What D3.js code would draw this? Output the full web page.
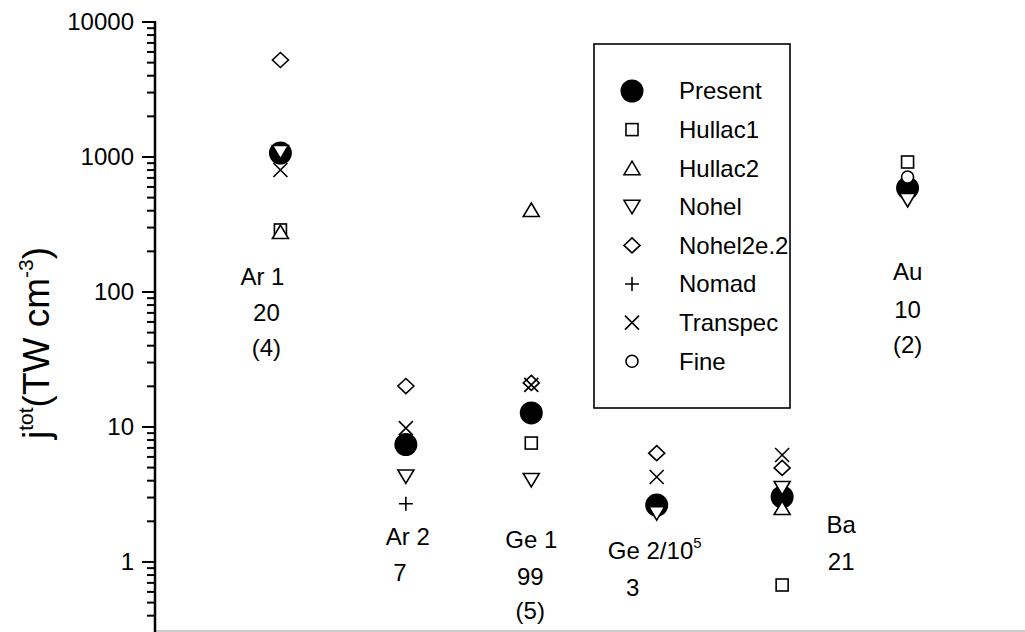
<!DOCTYPE html>
<html><head><meta charset="utf-8">
<script src="https://cdn.jsdelivr.net/npm/d3@7"></script>
<style>body{margin:0;background:#fff}svg{display:block}text{font-family:"Liberation Sans",Arial,sans-serif;fill:#000}</style>
</head><body><svg id="c" width="1025" height="632"></svg>
<script>
// ---- data ----
const categories = ["Ar 1", "Ar 2", "Ge 1", "Ge 2", "Ba", "Au"];
const catPos = [1, 2, 3, 4, 5, 6];
const present  = [1070, 7.4, 12.7, 2.64, 3.03, 589];
const hullac1  = [288, null, 7.6, null, 0.675, 918];
const hullac2  = [278, null, 405, null, 2.51, null];
const nohel    = [1090, 4.3, 4.05, 2.3, 3.53, 480];
const nohel2e2 = [5230, 20.1, 21.2, 6.4, 4.97, null];
const nomad    = [null, 2.7, null, null, null, null];
const transpec = [801, 9.8, 20.5, 4.26, 6.2, null];
const fine     = [null, null, null, null, null, 711];
const seriesNames = ["Present", "Hullac1", "Hullac2", "Nohel", "Nohel2e.2", "Nomad", "Transpec", "Fine"];
const labelLines = [["Ar 1", "20", "(4)"], ["Ar 2", "7"], ["Ge 1", "99", "(5)"], ["Ge 2/10|5", "3"], ["Ba", "21"], ["Au", "10", "(2)"]];
const yTicks = [1, 10, 100, 1000, 10000];
const yDomain = [0.308, 10000];

// ---- layout ----
const svg = d3.select("#c");
const x = d3.scaleLinear().domain([0, 7]).range([155, 1033]);
const y = d3.scaleLog().domain(yDomain).range([631, 22]);

const shapes = {
  Present: "filled", Hullac1: "square", Hullac2: "up", Nohel: "down",
  "Nohel2e.2": "diamond", Nomad: "plus", Transpec: "cross", Fine: "circle"
};
function drawMarker(g, kind, cx, cy) {
  const st = {stroke: "#000", "stroke-width": 1.6, fill: "#fff"};
  let el;
  if (kind === "filled") {
    g.append("circle").attr("cx", cx).attr("cy", cy).attr("r", 11.5).attr("fill", "#000");
    return;
  } else if (kind === "circle") {
    el = g.append("circle").attr("cx", cx).attr("cy", cy).attr("r", 6);
  } else if (kind === "square") {
    el = g.append("rect").attr("x", cx - 6).attr("y", cy - 6).attr("width", 12).attr("height", 12);
  } else if (kind === "up") {
    el = g.append("path").attr("d", `M${cx},${cy - 7}L${cx + 8},${cy + 6.5}L${cx - 8},${cy + 6.5}Z`);
  } else if (kind === "down") {
    el = g.append("path").attr("d", `M${cx},${cy + 7}L${cx + 8},${cy - 6.5}L${cx - 8},${cy - 6.5}Z`);
  } else if (kind === "diamond") {
    el = g.append("path").attr("d", `M${cx},${cy - 7.5}L${cx + 8},${cy}L${cx},${cy + 7.5}L${cx - 8},${cy}Z`);
  } else if (kind === "plus") {
    el = g.append("path").attr("d", `M${cx - 7},${cy}H${cx + 7}M${cx},${cy - 7}V${cy + 7}`);
  } else if (kind === "cross") {
    el = g.append("path").attr("d", `M${cx - 7},${cy - 7}L${cx + 7},${cy + 7}M${cx + 7},${cy - 7}L${cx - 7},${cy + 7}`);
  }
  for (const k in st) el.attr(k, st[k]);
}

// bottom axis line
svg.append("line").attr("x1", 155).attr("x2", 1025).attr("y1", 631).attr("y2", 631)
  .attr("stroke", "#999").attr("stroke-width", 1.2);

// y axis
const minor = [];
for (let e = -1; e <= 3; e++) for (let m = 2; m <= 9; m++) {
  const v = m * Math.pow(10, e);
  if (v >= yDomain[0] && v <= yDomain[1]) minor.push(v);
}
const ay = svg.append("g");
ay.append("line").attr("x1", 155).attr("x2", 155).attr("y1", y(yDomain[1]) - 1).attr("y2", 632)
  .attr("stroke", "#000").attr("stroke-width", 2.5);
ay.selectAll(".mn").data(minor).join("line")
  .attr("x1", 147).attr("x2", 155).attr("y1", d => y(d)).attr("y2", d => y(d))
  .attr("stroke", "#000").attr("stroke-width", 2);
ay.selectAll(".mj").data(yTicks).join("line")
  .attr("x1", 142).attr("x2", 155).attr("y1", d => y(d)).attr("y2", d => y(d))
  .attr("stroke", "#000").attr("stroke-width", 2);
ay.selectAll(".tl").data(yTicks).join("text")
  .attr("x", 134).attr("y", d => y(d)).attr("dy", "0.35em")
  .attr("text-anchor", "end").attr("font-size", 24).text(d => String(d));

// y title
const tt = svg.append("text").attr("transform", "translate(49,343) rotate(-90)")
  .attr("text-anchor", "middle").attr("font-size", 37);
tt.append("tspan").text("j");
tt.append("tspan").attr("font-size", 21).attr("dy", -16).text("tot");
tt.append("tspan").attr("dy", 16).text("(TW cm");
tt.append("tspan").attr("font-size", 21).attr("dy", -16).text("-3");
tt.append("tspan").attr("dy", 16).text(")");

// points
const seriesData = [present, hullac1, hullac2, nohel, nohel2e2, nomad, transpec, fine];
const pg = svg.append("g");
seriesData.forEach((arr, si) => {
  arr.forEach((v, i) => {
    if (v == null) return;
    drawMarker(pg, shapes[seriesNames[si]], x(catPos[i]), y(v));
  });
});

// category labels
const labelDx = [[-18, -14, -14], [2, -6], [0, -1, -1], [-2, -24], [59, 59], [0, 0, 0]];
const labelY = [[277, 313, 348], [537, 573], [540, 577, 611], [551, 588], [525, 562], [272, 310, 345]];
labelLines.forEach((lines, i) => {
  lines.forEach((s, j) => {
    const t = svg.append("text").attr("x", x(catPos[i]) + labelDx[i][j]).attr("y", labelY[i][j])
      .attr("dy", "0.35em").attr("text-anchor", "middle").attr("font-size", 24);
    if (s.includes("|")) {
      const [a, b] = s.split("|");
      t.append("tspan").text(a);
      t.append("tspan").attr("font-size", 15).attr("dy", -11).text(b);
    } else t.text(s);
  });
});

// legend
const lg = svg.append("g");
lg.append("rect").attr("x", 594).attr("y", 44).attr("width", 196).attr("height", 364)
  .attr("fill", "#fff").attr("stroke", "#000").attr("stroke-width", 1.6);
seriesNames.forEach((n, i) => {
  const cy = 91 + i * 38.6;
  drawMarker(lg, shapes[n], 632, cy);
  lg.append("text").attr("x", 679).attr("y", cy).attr("dy", "0.35em").attr("font-size", 24).text(n);
});
</script></body></html>
